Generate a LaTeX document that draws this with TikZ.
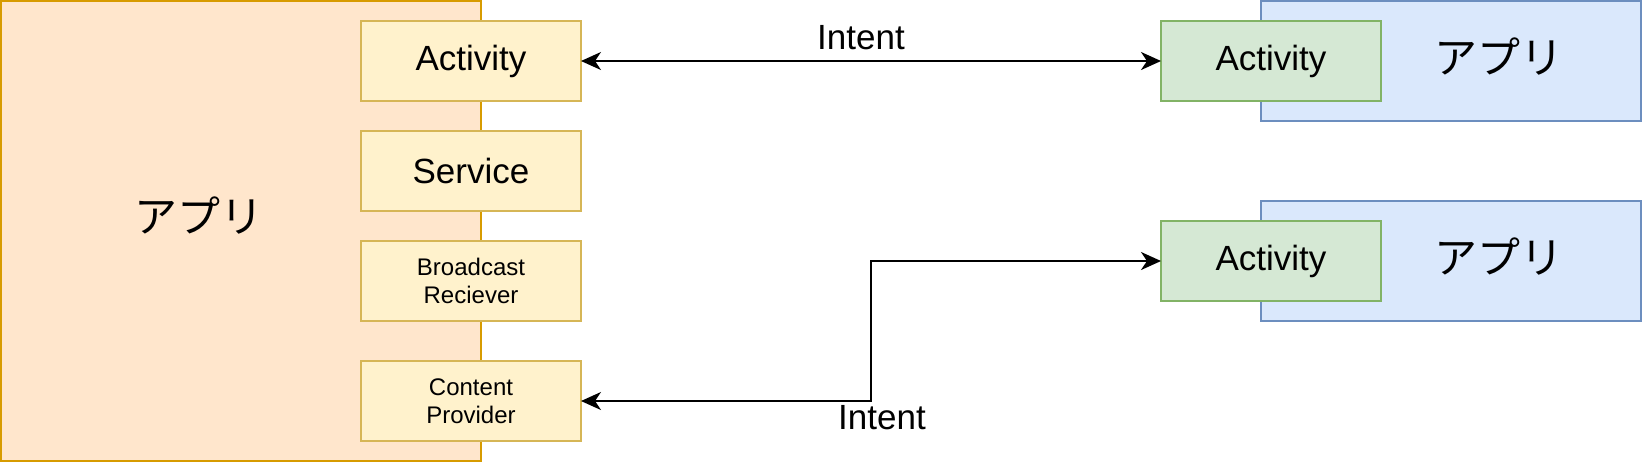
\documentclass[tikz,border=0pt]{standalone}
\usepackage{fontspec}
\setmainfont{Liberation Sans}
\newfontfamily\jpfont{Noto Sans CJK JP}
\usetikzlibrary{arrows.meta}
\definecolor{orfill}{HTML}{FFE6CC}
\definecolor{ordraw}{HTML}{D79B00}
\definecolor{yefill}{HTML}{FFF2CC}
\definecolor{yedraw}{HTML}{D6B656}
\definecolor{grfill}{HTML}{D5E8D4}
\definecolor{grdraw}{HTML}{82B366}
\definecolor{blfill}{HTML}{DAE8FC}
\definecolor{bldraw}{HTML}{6C8EBF}
\tikzset{
  box/.style={draw, line width=1pt, inner sep=0pt, outer sep=0pt, align=center},
  appbig/.style={box, fill=orfill, draw=ordraw, minimum width=240pt, minimum height=230pt},
  comp/.style={box, fill=yefill, draw=yedraw, minimum width=110pt, minimum height=40pt},
  gact/.style={box, fill=grfill, draw=grdraw, minimum width=110pt, minimum height=40pt},
  appsmall/.style={box, fill=blfill, draw=bldraw, minimum width=190pt, minimum height=60pt},
  bigtxt/.style={font=\fontsize{17.5}{21}\selectfont},
  smalltxt/.style={font=\fontsize{12}{14}\selectfont},
  jptxt/.style={font=\jpfont\fontsize{21.5}{24}\selectfont, inner sep=0pt},
  conn/.style={line width=1pt, {Stealth[length=10pt,width=9pt,inset=3pt]}-{Stealth[length=10pt,width=9pt,inset=3pt]}},
}
\begin{document}
\begin{tikzpicture}[x=0.5pt,y=-0.5pt]
\useasboundingbox (0,0) rectangle (1642,462);
% left app
\node[appbig] (app) at (241,231) {};
\node[jptxt] (applabel) at (199,216) {アプリ};
\node[comp, bigtxt] (ya) at (471,61) {Activity};
\node[comp, bigtxt] (ys) at (471,171) {Service};
\node[comp, smalltxt] (yb) at (471,281) {Broadcast\\Reciever};
\node[comp, smalltxt] (yc) at (471,401) {Content\\Provider};
% right apps
\node[appsmall] (appr1) at (1451,61) {};
\node[jptxt] (appr1label) at (1499,57) {アプリ};
\node[appsmall] (appr2) at (1451,261) {};
\node[jptxt] (appr2label) at (1499,257) {アプリ};
\node[gact, bigtxt] (ga) at (1271,61) {Activity};
\node[gact, bigtxt] (gb) at (1271,261) {Activity};
% connectors
\draw[conn] (ya.east) -- (ga.west);
\node[bigtxt, inner sep=0pt] (intent1) at (861,38) {Intent};
\coordinate (bend) at (871,401);
\draw[conn] (yc.east) -- (bend) |- (gb.west);
\node[bigtxt, inner sep=0pt] (intent2) at (882,418) {Intent};
\end{tikzpicture}
\end{document}
